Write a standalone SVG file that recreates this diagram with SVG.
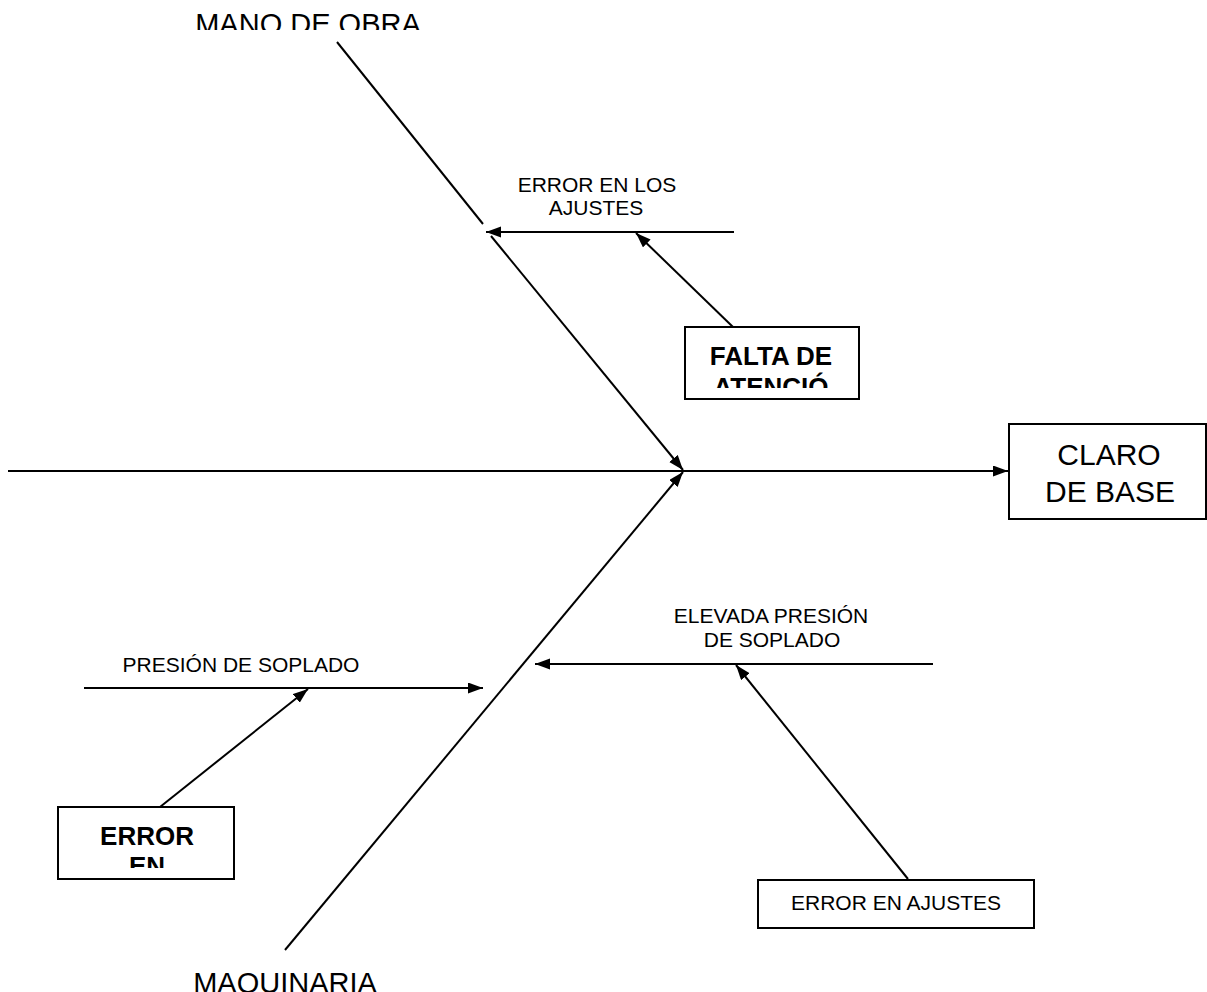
<svg xmlns="http://www.w3.org/2000/svg" width="1207" height="992" viewBox="0 0 1207 992">
  <style>
    .ln { stroke: #000; stroke-width: 2; fill: none; }
    .arr { marker-end: url(#head); }
    .box { fill: #fff; stroke: #000; stroke-width: 2; }
    .t { font-family: "Liberation Sans", Arial, sans-serif; fill: #000; text-anchor: middle; }
    .sm { font-size: 21px; }
    .bd { font-size: 26px; font-weight: bold; }
    .lg { font-size: 29px; }
    .xl { font-size: 30px; }
  </style>
  <defs>
    <marker id="head" markerUnits="userSpaceOnUse" markerWidth="16" markerHeight="12" refX="15" refY="5.5" orient="auto">
      <path d="M0,0 L15,5.5 L0,11 z" fill="#000"/>
    </marker>
    <clipPath id="clipMano"><rect x="150" y="0" width="320" height="30"/></clipPath>
    <clipPath id="clipFalta"><rect x="686" y="328" width="172" height="60"/></clipPath>
    <clipPath id="clipError"><rect x="59" y="808" width="175" height="60"/></clipPath>
  </defs>

  <!-- connectors: spine, main bones and sub-causes -->
  <g id="connectors">
    <line class="ln arr" x1="8" y1="471" x2="1008" y2="471"/>
    <line class="ln" x1="337" y1="42" x2="483" y2="224"/>
    <line class="ln arr" x1="491" y1="236" x2="683" y2="470"/>
    <line class="ln arr" x1="285" y1="950" x2="683" y2="472"/>
    <line class="ln arr" x1="734" y1="232" x2="486" y2="232"/>
    <line class="ln arr" x1="733" y1="327" x2="636" y2="233"/>
    <line class="ln arr" x1="84" y1="688" x2="483" y2="688"/>
    <line class="ln arr" x1="160" y1="807" x2="308" y2="689"/>
    <line class="ln arr" x1="933" y1="664" x2="535" y2="664"/>
    <line class="ln arr" x1="908" y1="879" x2="736" y2="665"/>
  </g>

  <g id="mano-de-obra">
    <text class="t lg" x="308" y="34" clip-path="url(#clipMano)">MANO DE OBRA</text>
  </g>

  <g id="maquinaria">
    <text class="t lg" x="285" y="993">MAQUINARIA</text>
  </g>

  <g id="error-en-los-ajustes">
    <text class="t sm" x="597" y="192">ERROR EN LOS</text>
    <text class="t sm" x="596" y="215">AJUSTES</text>
  </g>

  <g id="falta-de-atencion">
    <rect class="box" x="685" y="327" width="174" height="72"/>
    <g clip-path="url(#clipFalta)">
      <text class="t bd" x="771" y="365">FALTA DE</text>
      <text class="t bd" x="771" y="396">ATENCIÓ</text>
    </g>
  </g>

  <g id="claro-de-base">
    <rect class="box" x="1009" y="424" width="197" height="95"/>
    <text class="t xl" x="1109" y="465">CLARO</text>
    <text class="t xl" x="1110" y="502">DE BASE</text>
  </g>

  <g id="presion-de-soplado">
    <text class="t sm" x="241" y="672">PRESIÓN DE SOPLADO</text>
  </g>

  <g id="error-en">
    <rect class="box" x="58" y="807" width="176" height="72"/>
    <g clip-path="url(#clipError)">
      <text class="t bd" x="147" y="845">ERROR</text>
      <text class="t bd" x="147" y="875">EN</text>
    </g>
  </g>

  <g id="elevada-presion">
    <text class="t sm" x="771" y="623">ELEVADA PRESIÓN</text>
    <text class="t sm" x="772" y="647">DE SOPLADO</text>
  </g>

  <g id="error-en-ajustes">
    <rect class="box" x="758" y="880" width="276" height="48"/>
    <text class="t sm" x="896" y="910">ERROR EN AJUSTES</text>
  </g>
</svg>
